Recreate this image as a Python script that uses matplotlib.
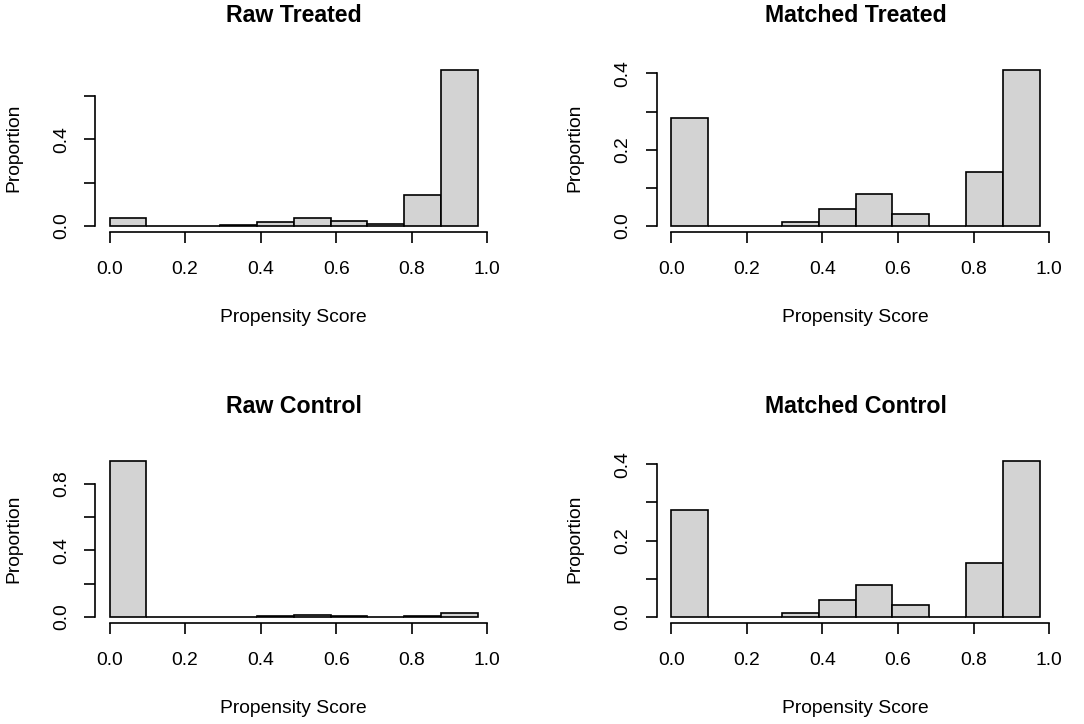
import numpy as np
import matplotlib
matplotlib.use("Agg")
import matplotlib.pyplot as plt

plt.rcParams['font.family'] = ['Liberation Sans', 'DejaVu Sans']

# histogram breaks (10 equal bins over the score range)
bin_edges = [0.0, 0.0975, 0.195, 0.2925, 0.39, 0.4875, 0.585, 0.6825, 0.78, 0.8775, 0.975]

# proportions per bin
raw_treated = [0.037, 0.0, 0.0, 0.005, 0.018, 0.036, 0.024, 0.008, 0.144, 0.720]
matched_treated = [0.282, 0.0, 0.0, 0.010, 0.044, 0.085, 0.031, 0.0, 0.141, 0.409]
raw_control = [0.938, 0.0, 0.0, 0.002, 0.008, 0.013, 0.005, 0.001, 0.007, 0.024]
matched_control = [0.281, 0.0, 0.0, 0.010, 0.044, 0.085, 0.031, 0.0, 0.141, 0.409]

titles = ["Raw Treated", "Matched Treated", "Raw Control", "Matched Control"]
series = [raw_treated, matched_treated, raw_control, matched_control]
x_ticks = [0.0, 0.2, 0.4, 0.6, 0.8, 1.0]
x_ticklabels = ["0.0", "0.2", "0.4", "0.6", "0.8", "1.0"]
y_ticks = [[0.0, 0.2, 0.4, 0.6],
           [0.0, 0.1, 0.2, 0.3, 0.4],
           [0.0, 0.2, 0.4, 0.6, 0.8],
           [0.0, 0.1, 0.2, 0.3, 0.4]]
y_ticklabels = [["0.0", "", "0.4", ""],
                ["0.0", "", "0.2", "", "0.4"],
                ["0.0", "", "0.4", "", "0.8"],
                ["0.0", "", "0.2", "", "0.4"]]

W, H = 1084, 724
# plot regions in pixels: left, top, right, bottom
regions = [(94.8, 63.7, 492.6, 232.2),
           (656.6, 63.7, 1054.4, 232.2),
           (94.8, 454.6, 492.6, 623.2),
           (656.6, 454.6, 1054.4, 623.2)]

base = 13.9
fig = plt.figure(figsize=(W / 100, H / 100), dpi=100)

for i in range(4):
    l, t, r, b = regions[i]
    ax = fig.add_axes([l / W, (H - b) / H, (r - l) / W, (b - t) / H])
    edges = np.array(bin_edges)
    vals = np.array(series[i])
    ax.bar(edges[:-1], vals, width=np.diff(edges), align='edge',
           color='#D3D3D3', edgecolor='black', linewidth=1.2)

    x0, x1 = edges[0], edges[-1]
    pad_x = 0.04 * (x1 - x0)
    ymax = vals.max()
    ax.set_xlim(x0 - pad_x, x1 + pad_x)
    ax.set_ylim(-0.04 * ymax, 1.04 * ymax)

    ax.spines['top'].set_visible(False)
    ax.spines['right'].set_visible(False)
    ax.spines['left'].set_bounds(y_ticks[i][0], y_ticks[i][-1])
    ax.spines['bottom'].set_bounds(x_ticks[0], x_ticks[-1])
    for s in ('left', 'bottom'):
        ax.spines[s].set_linewidth(1.2)

    ax.set_xticks(x_ticks)
    ax.set_xticklabels(x_ticklabels)
    ax.set_yticks(y_ticks[i])
    ax.set_yticklabels(y_ticklabels[i], rotation=90, va='center')
    ax.tick_params(direction='out', length=7.9, width=1.2, labelsize=base)
    ax.tick_params(axis='x', pad=13)
    ax.tick_params(axis='y', pad=10)

    ax.annotate(titles[i], xy=(0.5, 1), xycoords='axes fraction',
                xytext=(0, 34.5), textcoords='offset points',
                ha='center', va='center', fontsize=base * 1.2, fontweight='bold')
    ax.annotate("Propensity Score", xy=(0.5, 0), xycoords='axes fraction',
                xytext=(0, -61.6), textcoords='offset points',
                ha='center', va='center', fontsize=base)
    ax.annotate("Proportion", xy=(0, 0.5), xycoords='axes fraction',
                xytext=(-58.6, 0), textcoords='offset points',
                ha='center', va='center', rotation=90, fontsize=base)

fig.savefig("out.png", dpi=100)
